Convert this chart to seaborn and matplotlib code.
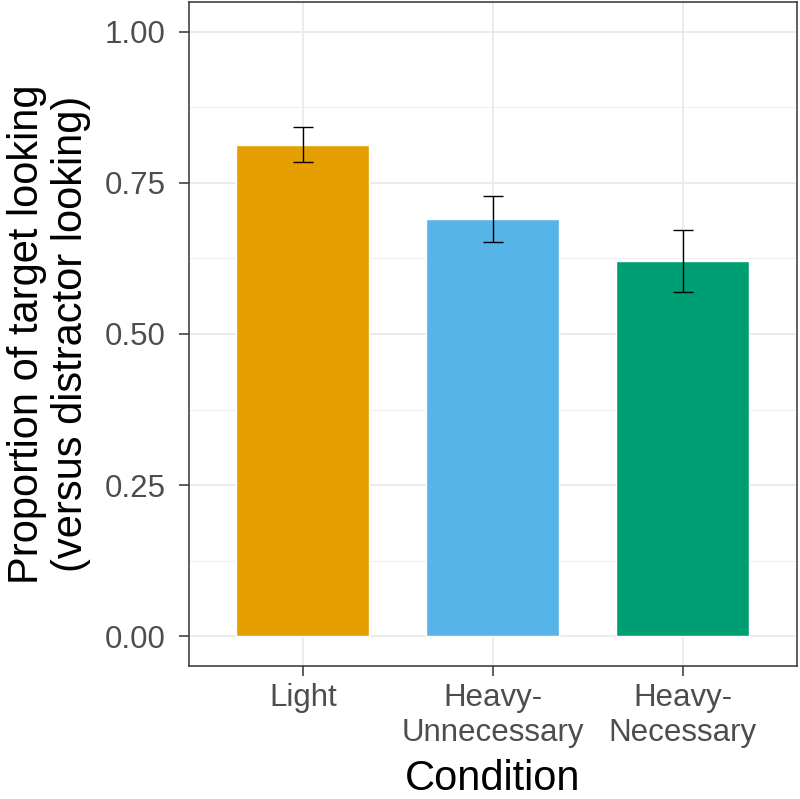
import numpy as np
import pandas as pd
import seaborn as sns
import matplotlib.pyplot as plt
from matplotlib.ticker import MultipleLocator

conditions = ["Light", "Heavy-\nUnnecessary", "Heavy-\nNecessary"]
proportions = [0.812, 0.690, 0.620]
ci_lower = [0.785, 0.653, 0.569]
ci_upper = [0.843, 0.728, 0.672]
bar_colors = ["#E69F00", "#56B4E9", "#009E73"]

df = pd.DataFrame(
    {
        "condition": conditions,
        "proportion": proportions,
    }
)

sns.set_theme(style="whitegrid")
plt.rcParams["font.family"] = ["Liberation Sans", "DejaVu Sans"]

fig = plt.figure(figsize=(8, 7.99), dpi=100)
ax = fig.add_axes([0.236, 0.166, 0.76, 0.832])

sns.barplot(
    data=df,
    x="condition",
    y="proportion",
    hue="condition",
    palette=bar_colors,
    width=0.7,
    errorbar=None,
    legend=False,
    saturation=1,
    ax=ax,
)

yerr = np.array(
    [
        np.array(proportions) - np.array(ci_lower),
        np.array(ci_upper) - np.array(proportions),
    ]
)

ax.errorbar(
    x=np.arange(len(conditions)),
    y=proportions,
    yerr=yerr,
    fmt="none",
    ecolor="black",
    elinewidth=1.0,
    capsize=7,
    capthick=1.0,
    zorder=5,
)

# Formatting
ax.set_xlim(-0.6, 2.6)
ax.set_ylim(-0.05, 1.05)
ax.yaxis.set_minor_locator(MultipleLocator(0.125))
ax.set_yticks([0, 0.25, 0.5, 0.75, 1.0])
ax.set_yticklabels(["0.00", "0.25", "0.50", "0.75", "1.00"])

ax.set_axisbelow(True)
ax.grid(which="major", color="#EBEBEB", linewidth=1.4)
ax.grid(which="minor", axis="y", color="#EFEFEF", linewidth=0.8)

for spine in ax.spines.values():
    spine.set_visible(True)
    spine.set_color("#333333")
    spine.set_linewidth(1.1)

ax.tick_params(
    axis="both",
    which="major",
    length=7,
    width=1.1,
    color="#333333",
    labelsize=22.5,
    labelcolor="#4D4D4D",
    left=True,
    bottom=True,
)
ax.tick_params(axis="y", which="major", pad=9.5)
ax.tick_params(axis="x", which="major", pad=5)
ax.tick_params(axis="y", which="minor", left=False)

ax.set_xlabel("Condition", fontsize=30, color="black", labelpad=8)
ax.set_ylabel(
    "Proportion of target looking\n(versus distractor looking)",
    fontsize=30,
    color="black",
    labelpad=10,
    linespacing=1.12,
)

plt.savefig("out.png", dpi=100)
